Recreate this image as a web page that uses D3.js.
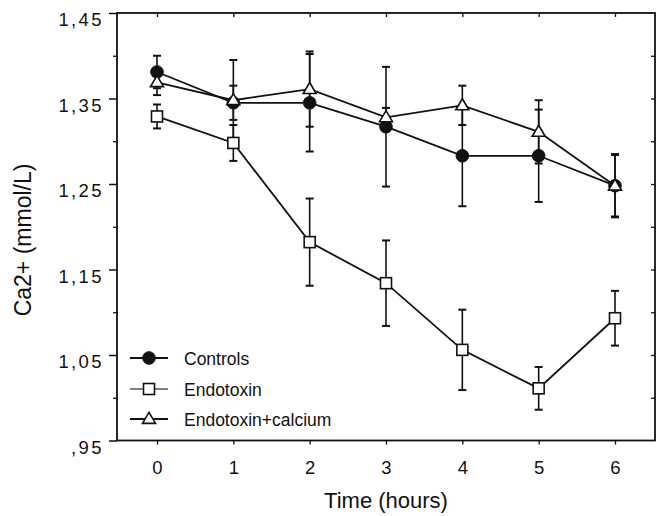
<!DOCTYPE html>
<html>
<head>
<meta charset="utf-8">
<script src="https://cdn.jsdelivr.net/npm/d3@7"></script>
<style>
  html, body { margin: 0; padding: 0; background: #fff; }
  svg { display: block; }
  text { font-family: "Liberation Sans", Arial, Helvetica, sans-serif; fill: #111; }
</style>
</head>
<body>
<svg id="chart" width="658" height="516"></svg>
<script>
// ---- data ----
const times = [0, 1, 2, 3, 4, 5, 6];
const controls = [1.381, 1.345, 1.345, 1.317, 1.283, 1.283, 1.248];
const controlsErr = [0.019, 0.020, 0.057, 0.070, 0.059, 0.054, 0.036];
const endotoxin = [1.329, 1.298, 1.182, 1.134, 1.056, 1.011, 1.093];
const endotoxinErr = [0.014, 0.021, 0.051, 0.050, 0.047, 0.025, 0.032];
const calcium = [1.369, 1.348, 1.361, 1.328, 1.342, 1.311, 1.248];
const calciumErr = [0.015, 0.047, 0.044, 0.011, 0.023, 0.037, 0.037];
const yTicks = [0.95, 1.05, 1.15, 1.25, 1.35, 1.45];
const yTickLabels = [",95", "1,05", "1,15", "1,25", "1,35", "1,45"];
const yMinorTicks = [1.00, 1.10, 1.20, 1.30, 1.40];
const seriesNames = ["Controls", "Endotoxin", "Endotoxin+calcium"];

(function () {
// ---- layout ----
const svg = d3.select("#chart");
const mLeft = 117, mRight = 655, mTop = 13, mBottom = 440.5;
const x = d3.scaleLinear().domain([0, 6]).range([157, 615]);
const y = d3.scaleLinear().domain([0.95, 1.45]).range([mBottom, mTop]);

const ink = "#111";

// frame
svg.append("rect").attr("x", mLeft).attr("y", mTop).attr("width", mRight - mLeft).attr("height", mBottom - mTop)
  .attr("fill", "none").attr("stroke", ink).attr("stroke-width", 1.8);

// left axis
const yAxis = d3.axisLeft(y).tickValues(yTicks).tickSize(8).tickFormat((d, i) => yTickLabels[i]);
const gy = svg.append("g").attr("transform", `translate(${mLeft},0)`).call(yAxis);
gy.select(".domain").remove();
gy.selectAll(".tick line").attr("stroke", ink).attr("stroke-width", 1.5);
gy.selectAll(".tick text").attr("x", -13).attr("dy", "0.85em").attr("y", -3)
  .style("font-size", "18.5px").style("letter-spacing", "2.4px").attr("fill", ink);
const yMinor = d3.axisLeft(y).tickValues(yMinorTicks).tickSize(4).tickFormat("");
const gym = svg.append("g").attr("transform", `translate(${mLeft},0)`).call(yMinor);
gym.select(".domain").remove();
gym.selectAll(".tick line").attr("stroke", ink).attr("stroke-width", 1.3);

// right axis inward ticks
const yRight = d3.axisLeft(y).tickValues(yMinorTicks.concat([1.05, 1.15, 1.25, 1.35])).tickSize(4).tickFormat("");
const gyr = svg.append("g").attr("transform", `translate(${mRight},0)`).call(yRight);
gyr.select(".domain").remove();
gyr.selectAll(".tick line").attr("stroke", ink).attr("stroke-width", 1.3);

// bottom axis
const xAxis = d3.axisBottom(x).tickValues(times).tickSize(4).tickFormat(d3.format("d"));
const gx = svg.append("g").attr("transform", `translate(0,${mBottom})`).call(xAxis);
gx.select(".domain").remove();
gx.selectAll(".tick line").attr("stroke", ink).attr("stroke-width", 1.3);
gx.selectAll(".tick text").attr("y", 33).attr("dy", 0).style("font-size", "18.5px").attr("fill", ink);

// top axis inward ticks
const xTop = d3.axisBottom(x).tickValues(times).tickSize(4).tickFormat("");
const gxt = svg.append("g").attr("transform", `translate(0,${mTop})`).call(xTop);
gxt.select(".domain").remove();
gxt.selectAll(".tick line").attr("stroke", ink).attr("stroke-width", 1.3);

// axis titles
svg.append("text").attr("x", 386).attr("y", 508).attr("text-anchor", "middle")
  .style("font-size", "22px").text("Time (hours)");
svg.append("text").attr("transform", "translate(31,240) rotate(-90)").attr("text-anchor", "middle")
  .style("font-size", "23px").text("Ca2+ (mmol/L)");

// series
const series = [
  { name: seriesNames[0], vals: controls, err: controlsErr, shape: "circle" },
  { name: seriesNames[1], vals: endotoxin, err: endotoxinErr, shape: "square" },
  { name: seriesNames[2], vals: calcium, err: calciumErr, shape: "triangle" }
];

const line = d3.line().x(d => x(d.t)).y(d => y(d.v));
series.forEach(s => {
  s.pts = times.map((t, i) => ({ t, v: s.vals[i], e: s.err[i] }));
});

// error bars
series.forEach(s => {
  const g = svg.append("g").attr("stroke", ink).attr("stroke-width", 1.6);
  s.pts.forEach(p => {
    g.append("line").attr("x1", x(p.t)).attr("x2", x(p.t)).attr("y1", y(p.v - p.e)).attr("y2", y(p.v + p.e));
    [p.v - p.e, p.v + p.e].forEach(v => {
      g.append("line").attr("x1", x(p.t) - 4).attr("x2", x(p.t) + 4).attr("y1", y(v)).attr("y2", y(v)).attr("stroke-width", 2);
    });
  });
});

// lines
series.forEach(s => {
  svg.append("path").datum(s.pts).attr("d", line).attr("fill", "none").attr("stroke", ink).attr("stroke-width", 1.8);
});

function drawMarker(g, shape, cx, cy) {
  if (shape === "circle") {
    g.append("circle").attr("cx", cx).attr("cy", cy).attr("r", 6.3).attr("fill", ink).attr("stroke", ink);
  } else if (shape === "square") {
    g.append("rect").attr("x", cx - 5.5).attr("y", cy - 5.5).attr("width", 11).attr("height", 11)
      .attr("fill", "#fff").attr("stroke", ink).attr("stroke-width", 1.6);
  } else {
    const h = 11, w = 13;
    g.append("path").attr("d", `M${cx},${cy - h * 0.6} L${cx + w / 2},${cy + h * 0.4} L${cx - w / 2},${cy + h * 0.4} Z`)
      .attr("fill", "#fff").attr("stroke", ink).attr("stroke-width", 1.6);
  }
}

// markers: squares, circles, then triangles
[1, 0, 2].forEach(k => {
  const s = series[k];
  const g = svg.append("g");
  s.pts.forEach(p => drawMarker(g, s.shape, x(p.t), y(p.v)));
});

// legend
const legendY = [358, 389, 419];
series.forEach((s, i) => {
  const g = svg.append("g");
  g.append("line").attr("x1", 130).attr("x2", 168).attr("y1", legendY[i]).attr("y2", legendY[i])
    .attr("stroke", i === 1 ? "#555" : ink).attr("stroke-width", i === 1 ? 1.3 : 1.8);
  drawMarker(g, s.shape, 149, legendY[i]);
  g.append("text").attr("x", 184).attr("y", legendY[i] + 7).style("font-size", "17.5px").text(s.name);
});
})();
</script>
</body>
</html>
